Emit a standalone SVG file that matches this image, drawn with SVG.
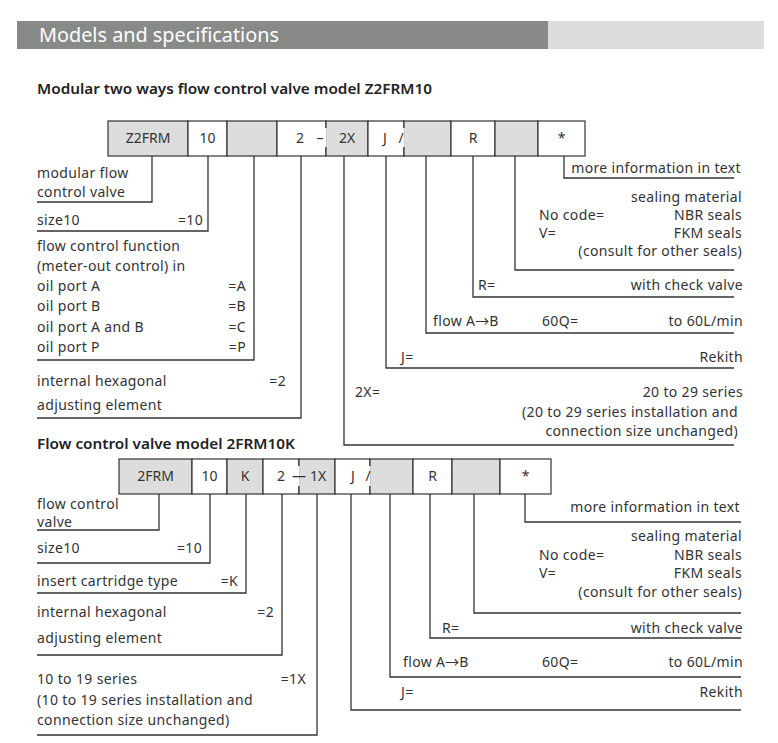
<svg xmlns="http://www.w3.org/2000/svg" width="778" height="743" viewBox="0 0 778 743">
<style>
text{font-family:"Noto Sans","Liberation Sans",sans-serif;fill:#333;font-size:14px;letter-spacing:0.35px}
.t{font-size:13.5px;font-weight:600;fill:#222;letter-spacing:0}
.c{font-size:14px;text-anchor:middle;letter-spacing:0}
.e{text-anchor:end}
.ar{font-family:"Noto Sans CJK SC","Noto Sans",sans-serif;letter-spacing:0}
.g{fill:#dcdddc;stroke:#333;stroke-width:1.2}
.w{fill:#fff;stroke:#333;stroke-width:1.2}
.ln{fill:none;stroke:#333;stroke-width:1.3}
</style>
<rect width="778" height="743" fill="#fff"/>
<g id="header">
<rect x="17" y="21" width="531" height="28" fill="#888a88"/>
<rect x="548" y="21" width="216" height="28" fill="#dcdddc"/>
<text x="39" y="42" style="fill:#fff;font-size:20px;letter-spacing:0" textLength="240" lengthAdjust="spacingAndGlyphs">Models and specifications</text>
</g>
<text class="t" x="37" y="94" textLength="395" lengthAdjust="spacingAndGlyphs">Modular two ways flow control valve model Z2FRM10</text>
<g id="code1">
<rect class="g" x="108" y="121" width="80" height="35"/>
<rect class="w" x="188" y="121" width="39" height="35"/>
<rect class="g" x="227" y="121" width="50" height="35"/>
<rect class="w" x="277" y="121" width="49" height="35"/>
<rect class="g" x="326" y="121" width="42" height="35"/>
<rect class="w" x="368" y="121" width="36" height="35"/>
<rect class="g" x="404" y="121" width="47" height="35"/>
<rect class="w" x="451" y="121" width="44" height="35"/>
<rect class="g" x="495" y="121" width="43" height="35"/>
<rect class="w" x="538" y="121" width="47" height="35"/>
<rect x="325" y="128" width="1.5" height="19" fill="#fff"/>
<rect x="326.5" y="128" width="0.6" height="19" fill="#dcdddc"/>
<rect x="403" y="128" width="1.6" height="19" fill="#fff"/>
<text class="c" x="148" y="143">Z2FRM</text>
<text class="c" x="207.5" y="143">10</text>
<text class="c" x="300" y="143">2</text>
<text class="c" x="320" y="143">–</text>
<text class="c" x="347" y="143">2X</text>
<text class="c" x="385" y="143">J</text>
<text class="c" x="401" y="143">/</text>
<text class="c" x="473" y="143">R</text>
<text class="c" x="561.5" y="143">*</text>
</g>
<g id="connectors1">
<polyline class="ln" points="152,156 152,202 37,202"/>
<polyline class="ln" points="208,156 208,231 37,231"/>
<polyline class="ln" points="254,156 254,360 37,360"/>
<polyline class="ln" points="301,156 301,418 37,418"/>
<polyline class="ln" points="344,156 344,445 734,445"/>
<polyline class="ln" points="386,156 386,368 734,368"/>
<polyline class="ln" points="426,156 426,333 734,333"/>
<polyline class="ln" points="473,156 473,297 734,297"/>
<polyline class="ln" points="515,156 515,270 734,270"/>
<polyline class="ln" points="564,156 564,178 734,178"/>
</g>
<g id="labels1-left">
<text x="37" y="178">modular flow</text>
<text x="37" y="197">control valve</text>
<text x="37" y="225">size10</text><text class="e" x="203" y="225">=10</text>
<text x="37" y="251">flow control function</text>
<text x="37" y="271">(meter-out control) in</text>
<text x="37" y="291">oil port A</text><text class="e" x="246" y="291">=A</text>
<text x="37" y="311">oil port B</text><text class="e" x="246" y="311">=B</text>
<text x="37" y="332">oil port A and B</text><text class="e" x="246" y="332">=C</text>
<text x="37" y="352">oil port P</text><text class="e" x="246" y="352">=P</text>
<text x="37" y="386">internal hexagonal</text><text class="e" x="286" y="386">=2</text>
<text x="37" y="410">adjusting element</text>
</g>
<g id="labels1-right">
<text class="e" x="741" y="173">more information in text</text>
<text class="e" x="742" y="202">sealing material</text>
<text x="539" y="220">No code=</text><text class="e" x="742" y="220">NBR seals</text>
<text x="539" y="238">V=</text><text class="e" x="742" y="238">FKM seals</text>
<text class="e" x="742" y="256">(consult for other seals)</text>
<text x="478" y="290">R=</text><text class="e" x="743" y="290">with check valve</text>
<text x="433" y="326">flow A<tspan class="ar">→</tspan>B</text><text x="542" y="326">60Q=</text><text class="e" x="743" y="326">to 60L/min</text>
<text x="401" y="362">J=</text><text class="e" x="743" y="362">Rekith</text>
<text x="355" y="397">2X=</text><text class="e" x="743" y="397">20 to 29 series</text>
<text class="e" x="738" y="417">(20 to 29 series installation and</text>
<text class="e" x="738" y="436">connection size unchanged)</text>
</g>
<text class="t" x="37" y="449" textLength="258" lengthAdjust="spacingAndGlyphs">Flow control valve model 2FRM10K</text>
<g id="code2">
<rect class="g" x="119" y="459" width="73" height="35"/>
<rect class="w" x="192" y="459" width="35" height="35"/>
<rect class="g" x="227" y="459" width="36" height="35"/>
<rect class="w" x="263" y="459" width="36" height="35"/>
<rect class="g" x="299" y="459" width="36" height="35"/>
<rect class="w" x="335" y="459" width="35" height="35"/>
<rect class="g" x="370" y="459" width="43" height="35"/>
<rect class="w" x="413" y="459" width="39" height="35"/>
<rect class="g" x="452" y="459" width="48" height="35"/>
<rect class="w" x="500" y="459" width="51" height="35"/>
<rect x="298" y="466" width="1.6" height="20" fill="#fff"/>
<rect x="369" y="466" width="1.6" height="20" fill="#fff"/>
<text class="c" x="155.5" y="481">2FRM</text>
<text class="c" x="209.5" y="481">10</text>
<text class="c" x="245" y="481">K</text>
<text class="c" x="281" y="481">2</text>
<text class="c" x="299" y="481">—</text>
<text class="c" x="318" y="481">1X</text>
<text class="c" x="353" y="481">J</text>
<text class="c" x="368" y="481">/</text>
<text class="c" x="432.5" y="481">R</text>
<text class="c" x="525.5" y="481">*</text>
</g>
<g id="connectors2">
<polyline class="ln" points="159,494 159,530 37,530"/>
<polyline class="ln" points="210,494 210,563 37,563"/>
<polyline class="ln" points="246,494 246,593 37,593"/>
<polyline class="ln" points="282,494 282,655 37,655"/>
<polyline class="ln" points="317,494 317,735 37,735"/>
<polyline class="ln" points="351,494 351,710 741,710"/>
<polyline class="ln" points="390,494 390,677 741,677"/>
<polyline class="ln" points="430,494 430,638 741,638"/>
<polyline class="ln" points="474,494 474,613 741,613"/>
<polyline class="ln" points="525,494 525,522 741,522"/>
</g>
<g id="labels2-left">
<text x="37" y="509">flow control</text>
<text x="37" y="527">valve</text>
<text x="37" y="553">size10</text><text class="e" x="202" y="553">=10</text>
<text x="37" y="586">insert cartridge type</text><text class="e" x="238" y="586">=K</text>
<text x="37" y="617">internal hexagonal</text><text class="e" x="274" y="617">=2</text>
<text x="37" y="643">adjusting element</text>
<text x="37" y="684">10 to 19 series</text><text class="e" x="306" y="684">=1X</text>
<text x="37" y="705">(10 to 19 series installation and</text>
<text x="37" y="725">connection size unchanged)</text>
</g>
<g id="labels2-right">
<text class="e" x="740" y="512">more information in text</text>
<text class="e" x="742" y="541">sealing material</text>
<text x="539" y="560">No code=</text><text class="e" x="742" y="560">NBR seals</text>
<text x="539" y="578">V=</text><text class="e" x="742" y="578">FKM seals</text>
<text class="e" x="742" y="597">(consult for other seals)</text>
<text x="442" y="633">R=</text><text class="e" x="743" y="633">with check valve</text>
<text x="403" y="667">flow A<tspan class="ar">→</tspan>B</text><text x="542" y="667">60Q=</text><text class="e" x="743" y="667">to 60L/min</text>
<text x="401" y="697">J=</text><text class="e" x="743" y="697">Rekith</text>
</g>
</svg>
